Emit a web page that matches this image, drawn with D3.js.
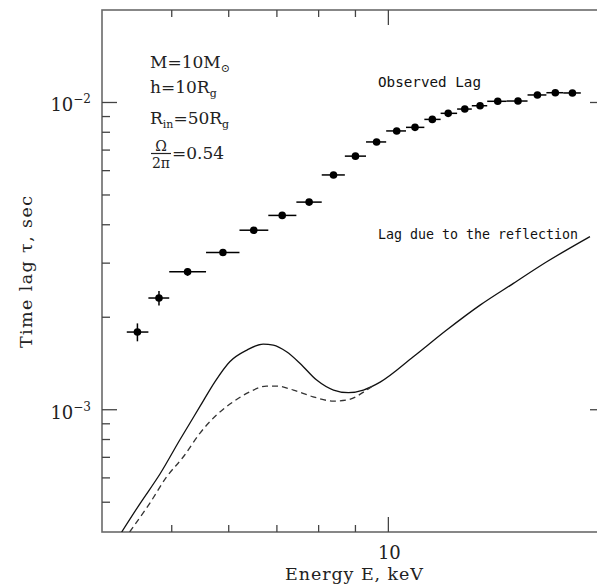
<!DOCTYPE html>
<html><head><meta charset="utf-8">
<script src="https://cdn.jsdelivr.net/npm/d3@7"></script>
<style>body{margin:0;background:#fff}</style>
</head><body>
<svg id="c" width="597" height="585"></svg>
<script>
// ---- data ----
const obsEnergy = [4.48, 4.80, 5.26, 5.89, 6.50, 7.12, 7.76, 8.39, 9.00, 9.63, 10.27, 10.89, 11.51, 12.11, 12.77, 13.41, 14.19, 15.14, 16.11, 17.06, 18.02];
const obsLag = [1.79e-3, 2.31e-3, 2.81e-3, 3.25e-3, 3.84e-3, 4.29e-3, 4.74e-3, 5.81e-3, 6.69e-3, 7.44e-3, 8.08e-3, 8.30e-3, 8.81e-3, 9.22e-3, 9.52e-3, 9.76e-3, 1.009e-2, 1.011e-2, 1.058e-2, 1.076e-2, 1.074e-2];
const obsLagErr = [0.12e-3, 0.125e-3, 0.08e-3, 0.08e-3, 0.08e-3, 0.08e-3, 0.08e-3, 0.08e-3, 0.08e-3, 0.08e-3, 0.08e-3, 0.08e-3, 0.08e-3, 0.08e-3, 0.08e-3, 0.08e-3, 0.1e-3, 0.1e-3, 0.1e-3, 0.1e-3, 0.1e-3];
const binEdges = [4.33, 4.64, 4.96, 5.58, 6.21, 6.81, 7.45, 8.08, 8.70, 9.31, 9.93, 10.58, 11.22, 11.82, 12.46, 13.06, 13.72, 14.60, 15.61, 16.58, 17.50, 18.51];

const reflEnergy = [4.26, 4.52, 4.82, 5.13, 5.47, 5.74, 6.02, 6.36, 6.70, 6.92, 7.22, 7.54, 7.95, 8.39, 8.80, 9.23, 9.74, 10.83, 12.05, 13.41, 14.92, 16.6, 19.06];
const reflLag = [4.0e-4, 4.96e-4, 6.20e-4, 7.97e-4, 1.023e-3, 1.233e-3, 1.433e-3, 1.564e-3, 1.636e-3, 1.623e-3, 1.544e-3, 1.415e-3, 1.249e-3, 1.159e-3, 1.136e-3, 1.159e-3, 1.230e-3, 1.487e-3, 1.817e-3, 2.19e-3, 2.578e-3, 3.03e-3, 3.66e-3];

const dashEnergy = [4.37, 4.66, 4.92, 5.19, 5.47, 5.77, 6.09, 6.42, 6.77, 7.00, 7.38, 7.86, 8.39, 8.75, 9.33, 9.55];
const dashLag = [4.0e-4, 4.96e-4, 6.05e-4, 7.03e-4, 8.38e-4, 9.61e-4, 1.062e-3, 1.144e-3, 1.194e-3, 1.194e-3, 1.159e-3, 1.102e-3, 1.067e-3, 1.075e-3, 1.159e-3, 1.205e-3];

const xMajorTicks = [10];
const xMinorTicks = [5, 6, 7, 8, 9];
const xTickLabels = ["10"];
const yMajorTicks = [1e-3, 1e-2];
const yMinorTicks = [5e-4, 6e-4, 7e-4, 8e-4, 9e-4, 2e-3, 3e-3, 4e-3, 5e-3, 6e-3, 7e-3, 8e-3, 9e-3];
const yTickExponents = ["−3", "−2"];

// ---- drawing ----
const svg = d3.select("#c");
const x = d3.scaleLog().domain([4, 20]).range([102, 605]);
const y = d3.scaleLog().domain([4e-4, 2e-2]).range([532, 10]);
const serif = "'DejaVu Serif', serif";
const mono = "'DejaVu Sans Mono', monospace";
const X0 = x(4), X1 = x(20), Y0 = y(4e-4), Y1 = y(2e-2);

svg.append("clipPath").attr("id", "clip").append("rect")
  .attr("x", X0).attr("y", Y1).attr("width", X1 - X0).attr("height", Y0 - Y1);

// frame
svg.append("rect").attr("x", X0).attr("y", Y1)
  .attr("width", X1 - X0).attr("height", Y0 - Y1)
  .attr("fill", "none").attr("stroke", "#6a6a6a").attr("stroke-width", 1.6);

const tk = svg.append("g").attr("stroke", "#444").attr("stroke-width", 1.3);
function xt(vals, len) {
  tk.selectAll(null).data(vals).enter().append("line")
    .attr("x1", d => x(d)).attr("x2", d => x(d)).attr("y1", Y0).attr("y2", Y0 - len);
  tk.selectAll(null).data(vals).enter().append("line")
    .attr("x1", d => x(d)).attr("x2", d => x(d)).attr("y1", Y1).attr("y2", Y1 + len);
}
function yt(vals, len) {
  tk.selectAll(null).data(vals).enter().append("line")
    .attr("y1", d => y(d)).attr("y2", d => y(d)).attr("x1", X0).attr("x2", X0 + len);
  tk.selectAll(null).data(vals).enter().append("line")
    .attr("y1", d => y(d)).attr("y2", d => y(d)).attr("x1", X1).attr("x2", X1 - len);
}
xt(xMajorTicks, 15); xt(xMinorTicks, 7);
yt(yMajorTicks, 15); yt(yMinorTicks, 8);

// tick labels
svg.selectAll(null).data(xMajorTicks).enter().append("text")
  .attr("x", d => x(d) + 1).attr("y", 559).attr("text-anchor", "middle")
  .attr("font-family", serif).attr("font-size", 18).attr("fill", "#222")
  .text((d, i) => xTickLabels[i]);
const yl = svg.selectAll(null).data(yMajorTicks).enter().append("text")
  .attr("x", 91).attr("y", d => y(d) + 9).attr("text-anchor", "end")
  .attr("font-family", serif).attr("font-size", 18).attr("fill", "#222");
yl.append("tspan").text("10");
yl.append("tspan").attr("dy", -8).attr("font-size", 12).text((d, i) => yTickExponents[i]);

// axis titles
svg.append("text").attr("x", 354).attr("y", 580).attr("text-anchor", "middle")
  .attr("font-family", serif).attr("font-size", 17.5).attr("fill", "#222")
  .attr("textLength", 138).attr("lengthAdjust", "spacing")
  .text("Energy E, keV");
svg.append("text").attr("transform", "translate(32,272) rotate(-90)").attr("text-anchor", "middle")
  .attr("font-family", serif).attr("font-size", 17.5).attr("fill", "#222")
  .attr("textLength", 152).attr("lengthAdjust", "spacing")
  .text("Time lag τ, sec");

// curves
const line = d3.line().x(d => x(d[0])).y(d => y(d[1])).curve(d3.curveMonotoneX);
const cg = svg.append("g").attr("clip-path", "url(#clip)");
cg.append("path").datum(reflEnergy.map((e, i) => [e, reflLag[i]]))
  .attr("d", line).attr("fill", "none").attr("stroke", "#111").attr("stroke-width", 1.3);
cg.append("path").datum(dashEnergy.map((e, i) => [e, dashLag[i]]))
  .attr("d", line).attr("fill", "none").attr("stroke", "#333").attr("stroke-width", 1.3)
  .attr("stroke-dasharray", "6,4");

// observed points
const pts = obsEnergy.map((e, i) => ({e, t: obsLag[i], err: obsLagErr[i], lo: binEdges[i], hi: binEdges[i + 1]}));
const pg = svg.append("g").attr("stroke", "#000").attr("stroke-width", 1.5);
pg.selectAll(".h").data(pts).enter().append("line")
  .attr("x1", d => x(d.lo)).attr("x2", d => x(d.hi)).attr("y1", d => y(d.t)).attr("y2", d => y(d.t));
pg.selectAll(".v").data(pts).enter().append("line")
  .attr("x1", d => x(d.e)).attr("x2", d => x(d.e)).attr("y1", d => y(d.t - d.err)).attr("y2", d => y(d.t + d.err));
svg.append("g").selectAll("circle").data(pts).enter().append("circle")
  .attr("cx", d => x(d.e)).attr("cy", d => y(d.t)).attr("r", 3.8).attr("fill", "#000");

// annotations
svg.append("text").attr("x", 378).attr("y", 87).attr("font-family", mono).attr("font-size", 14.5)
  .attr("fill", "#111").attr("textLength", 103).attr("lengthAdjust", "spacingAndGlyphs").text("Observed Lag");
svg.append("text").attr("x", 378).attr("y", 239).attr("font-family", mono).attr("font-size", 14.5)
  .attr("fill", "#111").attr("textLength", 200).attr("lengthAdjust", "spacingAndGlyphs").text("Lag due to the reflection");

const ann = svg.append("g").attr("font-family", serif).attr("font-size", 17).attr("fill", "#222");
const t1 = ann.append("text").attr("x", 150).attr("y", 68);
t1.append("tspan").text("M=10M");
t1.append("tspan").attr("dy", 4).attr("font-size", 11).text("⊙");
const t2 = ann.append("text").attr("x", 150).attr("y", 93);
t2.append("tspan").text("h=10R");
t2.append("tspan").attr("dy", 4).attr("font-size", 11).text("g");
const t3 = ann.append("text").attr("x", 150).attr("y", 124);
t3.append("tspan").text("R");
t3.append("tspan").attr("dy", 4).attr("font-size", 11).text("in");
t3.append("tspan").attr("dy", -4).text("=50R");
t3.append("tspan").attr("dy", 4).attr("font-size", 11).text("g");
ann.append("text").attr("x", 161).attr("y", 151).attr("text-anchor", "middle").attr("font-size", 14).text("Ω");
ann.append("line").attr("x1", 151).attr("x2", 171).attr("y1", 153.5).attr("y2", 153.5).attr("stroke", "#222").attr("stroke-width", 1.2);
ann.append("text").attr("x", 161).attr("y", 168).attr("text-anchor", "middle").attr("font-size", 14).text("2π");
ann.append("text").attr("x", 172).attr("y", 159).text("=0.54");
</script>
</body></html>
